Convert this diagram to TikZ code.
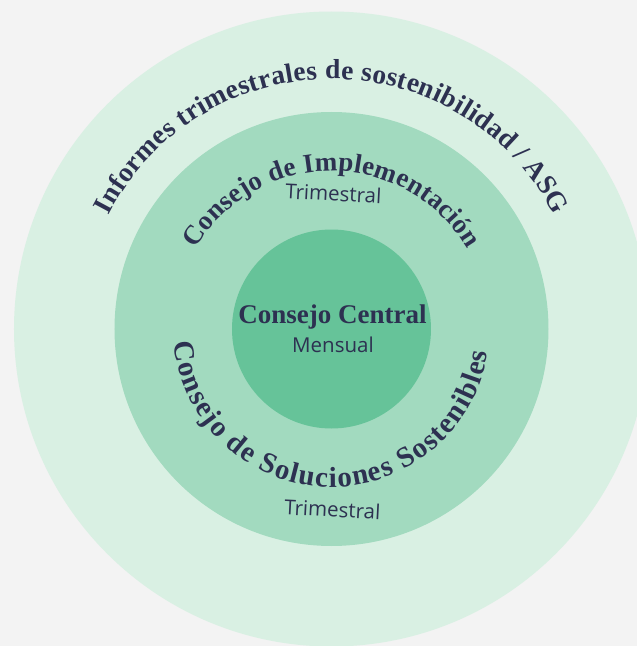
\documentclass[tikz,border=0pt]{standalone}
\usepackage{fontspec}
\setmainfont{Liberation Serif}
\newfontfamily\labelfont{Open Sans}
\usepackage{xcolor}
\usetikzlibrary{decorations.text}

\definecolor{pagegray}{HTML}{F3F3F3}
\definecolor{ringouter}{HTML}{D9F0E3}
\definecolor{ringmid}{HTML}{A2DABF}
\definecolor{ringcore}{HTML}{66C399}
\definecolor{inkblue}{HTML}{2D3151}

\begin{document}
\begin{tikzpicture}[x=1pt, y=1pt,
    ringtext/.style 2 args={decorate, decoration={text along path, text align={fit to path}, text color=inkblue, text={|\fontsize{#1}{32}\selectfont\bfseries|#2}}},
    freqlabel/.style={text=inkblue, font=\labelfont\fontsize{20.5}{24}\selectfont, inner sep=0pt, anchor=base}]
  % page and rings
  \clip (-331.5,-317) rectangle (305.5,329);
  \fill[pagegray] (-331.5,-317) rectangle (305.5,329);
  \fill[ringouter] (0,0) circle[radius=317.5];
  \fill[ringmid] (0,0) circle[radius=217];
  \fill[ringcore] (0,0) circle[radius=99.5];
  % text round the rings
  \path[ringtext={27.5}{Informes trimestrales de sostenibilidad / ASG}] (153:250) arc[start angle=153, end angle=27, radius=250];
  \path[ringtext={27}{Consejo de Implementación}] (149.5:158) arc[start angle=149.5, end angle=30.5, radius=158];
  \path[ringtext={29}{Consejo de Soluciones Sostenibles}] (185:158) arc[start angle=185, end angle=351.5, radius=158];
  % centre and frequencies
  \node[text=inkblue, font=\fontsize{27}{30}\selectfont\bfseries, inner sep=0pt, anchor=base] (central) at (1,6) {Consejo Central};
  \node[freqlabel] (mensual) at (1.5,-23) {Mensual};
  \node[freqlabel, rotate=-3] (trimimpl) at (1.5,128) {Trimestral};
  \node[freqlabel, rotate=-3] (trimsol) at (0.5,-188) {Trimestral};
\end{tikzpicture}
\end{document}
